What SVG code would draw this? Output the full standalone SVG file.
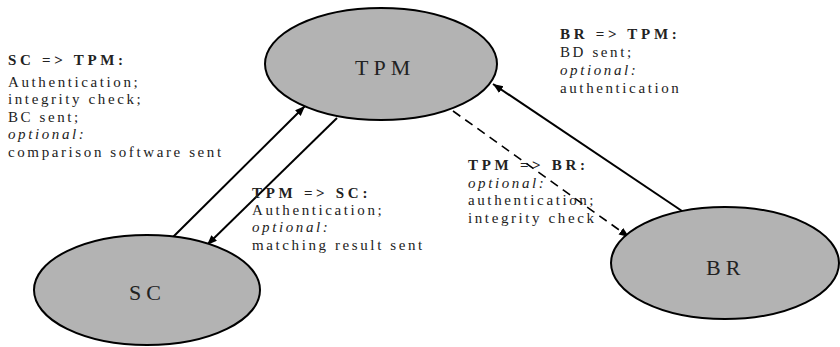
<svg xmlns="http://www.w3.org/2000/svg" width="840" height="347" viewBox="0 0 840 347">
<style>
.node ellipse{fill:#b3b3b3;stroke:#000;stroke-width:2}
.nl{font-family:"Liberation Serif","Times New Roman",serif;font-size:22px;letter-spacing:5px;fill:#222}
.lbl{font-family:"Liberation Serif","Times New Roman",serif;font-size:15px;letter-spacing:2.6px;fill:#222}
.lbl .t{font-weight:bold;letter-spacing:3.7px}
.lbl .o{font-style:italic}
.edge{stroke:#000;stroke-width:2;fill:none}
.dash{stroke-dasharray:9 6;stroke-width:1.6}
</style>
<defs>
<marker id="ah" markerUnits="userSpaceOnUse" markerWidth="12" markerHeight="10" refX="10" refY="4" orient="auto">
<path d="M0,0 L10,4 L0,8 z" fill="#000"/>
</marker>
</defs>
<rect width="840" height="347" fill="#fff"/>
<g id="connectors">
<line class="edge" x1="173" y1="237" x2="305" y2="106" marker-end="url(#ah)"/>
<line class="edge" x1="337" y1="118" x2="207" y2="245" marker-end="url(#ah)"/>
<line class="edge" x1="682" y1="211" x2="493" y2="84" marker-end="url(#ah)"/>
<line class="edge dash" x1="453" y1="111" x2="629" y2="237" marker-end="url(#ah)"/>
</g>
<g id="TPM" class="node">
<ellipse cx="381" cy="64" rx="116" ry="56"/>
<text class="nl" x="355" y="75">TPM</text>
</g>
<g id="SC" class="node">
<ellipse cx="147" cy="290" rx="113" ry="55"/>
<text class="nl" x="129" y="300">SC</text>
</g>
<g id="BR" class="node">
<ellipse cx="725" cy="263" rx="114" ry="56"/>
<text class="nl" x="706" y="275">BR</text>
</g>
<g id="label-sc-tpm">
<text class="lbl" x="8" y="65"><tspan class="t">SC =&gt; TPM:</tspan></text>
<text class="lbl" x="8" y="86.5">Authentication;</text>
<text class="lbl" x="8" y="103.5">integrity check;</text>
<text class="lbl" x="8" y="121.5">BC sent;</text>
<text class="lbl" x="8" y="139"><tspan class="o">optional:</tspan></text>
<text class="lbl" x="8" y="156.5">comparison software sent</text>
</g>
<g id="label-tpm-sc">
<text class="lbl" x="252" y="198"><tspan class="t">TPM =&gt; SC:</tspan></text>
<text class="lbl" x="252" y="215">Authentication;</text>
<text class="lbl" x="252" y="232"><tspan class="o">optional:</tspan></text>
<text class="lbl" x="252" y="250">matching result sent</text>
</g>
<g id="label-br-tpm">
<text class="lbl" x="560" y="39"><tspan class="t">BR =&gt; TPM:</tspan></text>
<text class="lbl" x="560" y="57">BD sent;</text>
<text class="lbl" x="560" y="75"><tspan class="o">optional:</tspan></text>
<text class="lbl" x="560" y="93">authentication</text>
</g>
<g id="label-tpm-br">
<text class="lbl" x="468" y="170"><tspan class="t">TPM =&gt; BR:</tspan></text>
<text class="lbl" x="468" y="187.5"><tspan class="o">optional:</tspan></text>
<text class="lbl" x="468" y="205">authentication;</text>
<text class="lbl" x="468" y="223">integrity check</text>
</g>
</svg>
